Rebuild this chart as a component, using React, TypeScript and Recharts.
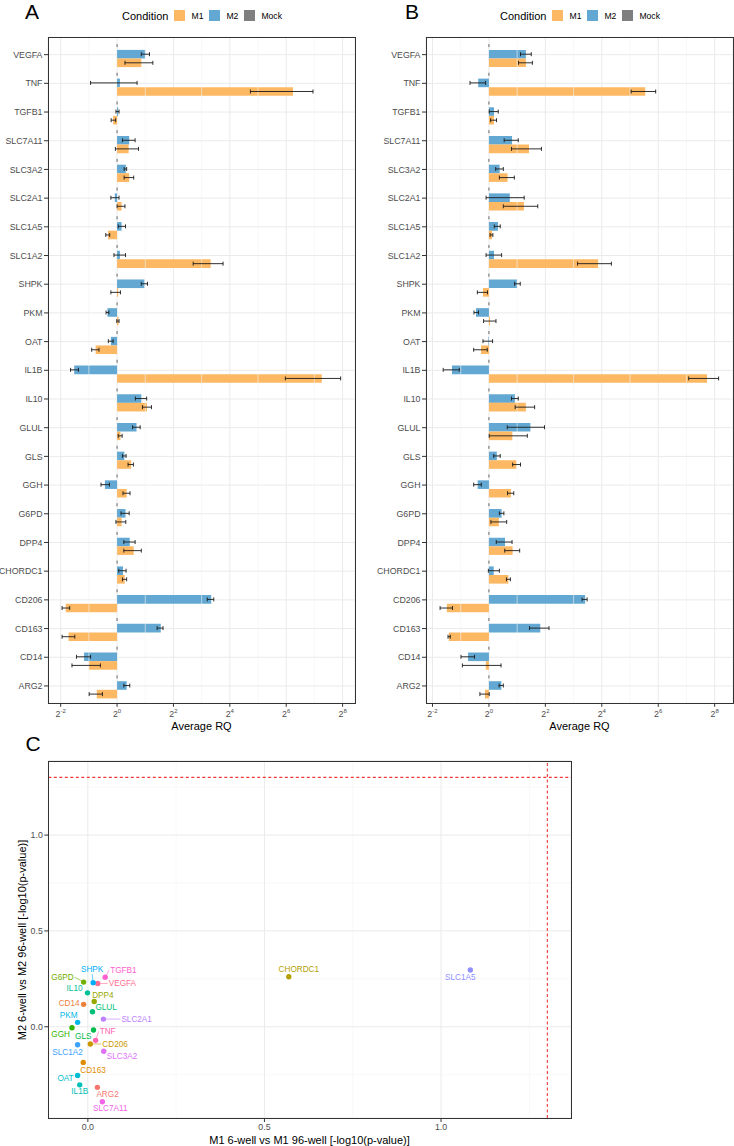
import React from 'react';
import {
  BarChart, Bar, XAxis, YAxis, CartesianGrid, ErrorBar, ReferenceLine,
  ScatterChart, Scatter,
} from 'recharts';

const FONT = '"Liberation Sans", Arial, Helvetica, sans-serif';
const M1_COLOR = '#FDB863';
const M2_COLOR = '#62A8D2';
const MOCK_COLOR = '#7F7F7F';
const GRID = '#EAEAEA';
const GRID_MINOR = '#F4F4F4';
const AXIS_TEXT = '#4D4D4D';
const SIG_COLOR = '#F0393B';

// genes, top to bottom in panels A and B
const genes = ['VEGFA', 'TNF', 'TGFB1', 'SLC7A11', 'SLC3A2', 'SLC2A1', 'SLC1A5', 'SLC1A2', 'SHPK', 'PKM', 'OAT', 'IL1B',
  'IL10', 'GLUL', 'GLS', 'GGH', 'G6PD', 'DPP4', 'CHORDC1', 'CD206', 'CD163', 'CD14', 'ARG2'];

// log2 axis ticks
const majorLog2 = [-2, 0, 2, 4, 6, 8];
const minorLog2 = [-1, 1, 3, 5, 7];

// Panel A: log2(average RQ), mean and error bar ends
const m1A = [0.86, 6.24, -0.14, 0.41, 0.43, 0.16, -0.32, 3.32, 0.04, 0.05, -0.76, 7.26, 1.06, 0.12, 0.5, 0.34, 0.16, 0.59, 0.27, -1.82, -1.72, -1.0, -0.72];
const m1ALo = [0.28, 4.73, -0.21, -0.06, 0.25, 0, -0.4, 2.7, -0.22, -0.01, -0.9, 5.97, 0.9, 0.04, 0.39, 0.21, -0.04, 0.24, 0.19, -1.95, -1.95, -1.6, -0.99];
const m1AHi = [1.27, 6.95, -0.05, 0.76, 0.59, 0.28, -0.26, 3.76, 0.12, 0.07, -0.64, 7.93, 1.22, 0.18, 0.58, 0.46, 0.31, 0.86, 0.34, -1.68, -1.5, -0.59, -0.52];
const m2A = [1.0, 0.1, 0.04, 0.43, 0.31, -0.08, 0.16, 0.1, 0.97, -0.34, -0.22, -1.52, 0.86, 0.69, 0.26, -0.43, 0.3, 0.45, 0.21, 3.34, 1.55, -1.17, 0.34];
const m2ALo = [0.86, -0.94, -0.04, 0.19, 0.25, -0.22, 0.04, -0.11, 0.86, -0.39, -0.31, -1.65, 0.65, 0.55, 0.19, -0.57, 0.14, 0.24, 0.06, 3.2, 1.42, -1.44, 0.24];
const m2AHi = [1.15, 0.71, 0.07, 0.64, 0.34, 0.07, 0.3, 0.3, 1.08, -0.29, -0.14, -1.37, 1.05, 0.82, 0.32, -0.27, 0.43, 0.64, 0.32, 3.43, 1.63, -0.94, 0.45];

// Panel B
const m1B = [1.31, 5.54, 0.18, 1.42, 0.66, 1.24, 0.11, 3.87, -0.21, 0.04, -0.28, 7.73, 1.31, 0.83, 0.97, 0.78, 0.35, 0.84, 0.69, -1.49, -1.42, -0.11, -0.14];
const m1BLo = [1.05, 5.04, 0.06, 0.8, 0.37, 0.51, 0.04, 3.14, -0.41, -0.19, -0.54, 7.08, 0.93, 0.01, 0.84, 0.66, 0.07, 0.56, 0.62, -1.73, -1.45, -0.94, -0.32];
const m1BHi = [1.54, 5.91, 0.27, 1.86, 0.9, 1.73, 0.14, 4.34, -0.05, 0.25, -0.06, 8.14, 1.62, 1.36, 1.12, 0.88, 0.63, 1.09, 0.76, -1.29, -1.37, 0.43, 0.01];
const m2B = [1.31, -0.38, 0.18, 0.82, 0.38, 0.74, 0.32, 0.18, 1.0, -0.46, -0.02, -1.31, 0.92, 1.47, 0.28, -0.4, 0.45, 0.57, 0.17, 3.41, 1.82, -0.74, 0.44];
const m2BLo = [1.12, -0.67, 0.01, 0.54, 0.24, -0.1, 0.19, -0.1, 0.91, -0.53, -0.21, -1.62, 0.8, 0.65, 0.17, -0.54, 0.37, 0.26, -0.02, 3.3, 1.44, -0.99, 0.36];
const m2BHi = [1.5, -0.12, 0.33, 1.04, 0.51, 1.25, 0.4, 0.45, 1.11, -0.37, 0.13, -1.05, 1.04, 1.97, 0.4, -0.27, 0.53, 0.82, 0.37, 3.48, 2.13, -0.51, 0.51];

// Panel C: -log10(p) per gene (same order as genes)
const m1NegLogP = [0.028, 0.022, 0.049, 0.041, 0.045, 0.044, 1.083, -0.029, 0.015, -0.029, -0.029, -0.023, -0.001, 0.013, 0.016, -0.045, -0.012, 0.018, 0.569, 0.007, -0.013, -0.012, 0.027];
const m2NegLogP = [0.226, -0.071, 0.258, -0.391, -0.128, 0.04, 0.296, -0.094, 0.23, 0.023, -0.254, -0.303, 0.177, 0.078, -0.017, -0.005, 0.233, 0.132, 0.261, -0.09, -0.186, 0.117, -0.316];
const SIG = -Math.log10(0.05);

// label placement for panel C (dx, dy, anchor, leader line)
const LABEL_NUDGE: Record<string, [number, number, 'start' | 'middle' | 'end', boolean]> = {
  G6PD: [-10, -5, 'end', true],
  SHPK: [-1, -13, 'middle', true],
  TGFB1: [5, -7, 'start', true],
  VEGFA: [11, 0, 'start', true],
  IL10: [-5, -4, 'end', false],
  DPP4: [-2, -6, 'start', false],
  CD14: [-4, -1, 'end', false],
  GLUL: [3, -4, 'start', false],
  SLC2A1: [18, 0, 'start', true],
  PKM: [0, -7, 'end', false],
  GGH: [-2, 7, 'end', false],
  GLS: [-2, 6, 'end', false],
  TNF: [4, -9, 'start', true],
  CD206: [12, 0, 'start', true],
  SLC1A2: [-10, 8, 'middle', false],
  SLC3A2: [3, 5, 'start', false],
  CD163: [-3, 8, 'start', false],
  OAT: [-4, 3, 'end', false],
  IL1B: [0, 7, 'middle', false],
  ARG2: [-1, 7, 'start', false],
  SLC7A11: [8, 7, 'middle', false],
  CHORDC1: [10, -7, 'middle', false],
  SLC1A5: [-10, 7, 'middle', false],
};

// ggplot-like hue palette (hcl, c=100, l=65)
function hclHex(h: number) {
  const L = 65, C = 100;
  const hr = (h * Math.PI) / 180;
  const u = C * Math.cos(hr), v = C * Math.sin(hr);
  const Y = Math.pow((L + 16) / 116, 3);
  const up = u / (13 * L) + 0.19783, vp = v / (13 * L) + 0.46832;
  const X = (Y * 9 * up) / (4 * vp);
  const Z = (Y * (12 - 3 * up - 20 * vp)) / (4 * vp);
  const lin = [
    3.2406 * X - 1.5372 * Y - 0.4986 * Z,
    -0.9689 * X + 1.8758 * Y + 0.0415 * Z,
    0.0557 * X - 0.204 * Y + 1.057 * Z,
  ];
  return '#' + lin.map((c) => {
    c = Math.max(0, Math.min(1, c));
    const s = c <= 0.0031308 ? 12.92 * c : 1.055 * Math.pow(c, 1 / 2.4) - 0.055;
    return Math.round(s * 255).toString(16).padStart(2, '0');
  }).join('');
}
const sortedGenes = [...genes].sort();
const GENE_COLORS: Record<string, string> = {};
sortedGenes.forEach((g, i) => { GENE_COLORS[g] = hclHex(15 + (360 * i) / sortedGenes.length); });

function buildRows(m1: number[], m1Lo: number[], m1Hi: number[], m2: number[], m2Lo: number[], m2Hi: number[]) {
  return genes.map((gene, i) => ({
    gene,
    mock: 0,
    m1: m1[i],
    m1Err: [Math.max(0, m1[i] - m1Lo[i]), Math.max(0, m1Hi[i] - m1[i])],
    m2: m2[i],
    m2Err: [Math.max(0, m2[i] - m2Lo[i]), Math.max(0, m2Hi[i] - m2[i])],
  }));
}
const rowsA = buildRows(m1A, m1ALo, m1AHi, m2A, m2ALo, m2AHi);
const rowsB = buildRows(m1B, m1BLo, m1BHi, m2B, m2BLo, m2BHi);
const points = genes.map((gene, i) => ({ gene, x: m1NegLogP[i], y: m2NegLogP[i] }));

const Pow2Tick = (p: any) => {
  const { x, y, payload } = p;
  return (
    <g>
      <line x1={x} x2={x} y1={y} y2={y + 3.5} stroke="#333" strokeWidth={1} />
      <text x={x} y={y + 13.2} textAnchor="middle" fontSize={8.8} fill={AXIS_TEXT} fontFamily={FONT}>
        2<tspan dy={-4} fontSize={6}>{payload.value}</tspan>
      </text>
    </g>
  );
};

// Mock has RQ = 1, so only the zero-length error cap shows
const MockShape = (p: any) => {
  const cy = p.y + p.height / 2;
  return <line x1={p.x} x2={p.x} y1={cy - 1.5} y2={cy + 1.5} stroke="#666" strokeWidth={1} />;
};

const GenePoint = (p: any) => {
  const { cx, cy, payload } = p;
  if (cx == null || cy == null) return null;
  const color = GENE_COLORS[payload.gene];
  const [dx, dy, anchor, leader] = LABEL_NUDGE[payload.gene];
  const tx = cx + dx, ty = cy + dy;
  let lx = tx, ly = ty;
  if (anchor === 'start') lx = tx - 1;
  else if (anchor === 'end') lx = tx + 1;
  else ly = ty + (dy < 0 ? 4.5 : -4.5);
  const d = Math.hypot(lx - cx, ly - cy) || 1;
  return (
    <g>
      {leader && (
        <line x1={cx + ((lx - cx) * 2.6) / d} y1={cy + ((ly - cy) * 2.6) / d} x2={lx} y2={ly} stroke={color} strokeWidth={0.6} />
      )}
      <circle cx={cx} cy={cy} r={2.7} fill={color} />
      <text x={tx} y={ty} textAnchor={anchor} dominantBaseline="central" fontSize={8.2} fill={color} fontFamily={FONT}>
        {payload.gene}
      </text>
    </g>
  );
};

function RQChart({ rows, domain, yWidth, marginLeft, marginRight }: any) {
  return (
    <BarChart
      width={367}
      height={745}
      data={rows}
      layout="vertical"
      barSize={8.6}
      barGap={0}
      margin={{ top: 37.3, right: marginRight, bottom: 11.7, left: marginLeft }}
    >
      <CartesianGrid stroke={GRID} fill="#fff" />
      {minorLog2.map((v) => (
        <ReferenceLine key={v} x={v} stroke={GRID_MINOR} strokeWidth={0.6} />
      ))}
      <XAxis
        type="number"
        domain={domain}
        allowDataOverflow
        ticks={majorLog2}
        interval={0}
        tick={Pow2Tick}
        tickLine={false}
        axisLine={false}
        tickSize={0}
        tickMargin={0}
        height={30}
      />
      <YAxis
        type="category"
        dataKey="gene"
        width={yWidth}
        interval={0}
        tick={{ fontSize: 8.8, fill: AXIS_TEXT, fontFamily: FONT }}
        tickLine={{ stroke: '#333' }}
        tickSize={4}
        tickMargin={1.5}
        axisLine={false}
        padding={{ top: 3, bottom: 3 }}
      />
      <Bar dataKey="mock" fill={MOCK_COLOR} shape={MockShape} isAnimationActive={false} />
      <Bar dataKey="m2" fill={M2_COLOR} isAnimationActive={false}>
        <ErrorBar dataKey="m2Err" direction="x" width={2} stroke="#1a1a1a" strokeWidth={0.9} />
      </Bar>
      <Bar dataKey="m1" fill={M1_COLOR} isAnimationActive={false}>
        <ErrorBar dataKey="m1Err" direction="x" width={2} stroke="#1a1a1a" strokeWidth={0.9} />
      </Bar>
    </BarChart>
  );
}

const abs = (left: number, top: number, extra: React.CSSProperties = {}): React.CSSProperties => ({
  position: 'absolute', left, top, ...extra,
});

function CenterText({ x, y, size, children, rotate }: any) {
  return (
    <div
      style={abs(x, y, {
        fontSize: size,
        lineHeight: 1,
        whiteSpace: 'nowrap',
        transform: `translate(-50%, -50%)${rotate ? ' rotate(-90deg)' : ''}`,
      })}
    >
      {children}
    </div>
  );
}

function PanelLetter({ x, top, children }: any) {
  return (
    <div style={abs(x, top, { fontSize: 21, lineHeight: 'normal' })}>{children}</div>
  );
}

function ConditionLegend({ left }: { left: number }) {
  const items = [
    { name: 'M1', color: M1_COLOR },
    { name: 'M2', color: M2_COLOR },
    { name: 'Mock', color: MOCK_COLOR },
  ];
  return (
    <div style={abs(left, 9, { display: 'flex', alignItems: 'center', gap: 6, height: 13 })}>
      <span style={{ fontSize: 11 }}>Condition</span>
      {items.map((it) => (
        <React.Fragment key={it.name}>
          <span style={{ width: 11, height: 11, background: it.color, display: 'inline-block' }} />
          <span style={{ fontSize: 8.6 }}>{it.name}</span>
        </React.Fragment>
      ))}
    </div>
  );
}

function Frame({ left, top, width, height }: any) {
  return (
    <div
      style={abs(left, top, {
        width, height, border: '1px solid #333', boxSizing: 'border-box', pointerEvents: 'none',
      })}
    />
  );
}

export default function App() {
  return (
    <div style={{ position: 'absolute', left: 0, top: 0, width: 734, height: 1146, background: '#fff', fontFamily: FONT, color: '#000' }}>
      <PanelLetter x={25} top={0}>A</PanelLetter>
      <PanelLetter x={405} top={0}>B</PanelLetter>
      <PanelLetter x={25.5} top={732}>C</PanelLetter>

      <ConditionLegend left={122} />
      <ConditionLegend left={500} />

      <div style={abs(0, 0)}>
        <RQChart rows={rowsA} domain={[-2.45, 8.44]} yWidth={40} marginLeft={8} marginRight={12} />
      </div>
      <div style={abs(367, 0)}>
        <RQChart rows={rowsB} domain={[-2.23, 8.65]} yWidth={50} marginLeft={9} marginRight={1} />
      </div>
      <Frame left={48} top={37} width={307.5} height={666.5} />
      <Frame left={426} top={37} width={307.5} height={666.5} />
      <CenterText x={201.5} y={726} size={11}>Average RQ</CenterText>
      <CenterText x={579.5} y={726} size={11}>Average RQ</CenterText>

      <div style={abs(0, 740)}>
        <ScatterChart width={600} height={406} margin={{ top: 20.7, right: 29, bottom: 12, left: 8.3 }}>
          <CartesianGrid stroke={GRID} fill="#fff" />
          {[0.25, 0.75, 1.25].map((v) => (
            <ReferenceLine key={'x' + v} x={v} stroke={GRID_MINOR} strokeWidth={0.6} />
          ))}
          {[-0.25, 0.25, 0.75, 1.25].map((v) => (
            <ReferenceLine key={'y' + v} y={v} stroke={GRID_MINOR} strokeWidth={0.6} />
          ))}
          <XAxis
            type="number"
            dataKey="x"
            domain={[-0.112, 1.368]}
            allowDataOverflow
            ticks={[0, 0.5, 1]}
            interval={0}
            tickFormatter={(v: number) => v.toFixed(1)}
            tick={{ fontSize: 8.8, fill: AXIS_TEXT, fontFamily: FONT }}
            tickLine={{ stroke: '#333' }}
            tickSize={4}
            tickMargin={2}
            axisLine={false}
            height={16}
          />
          <YAxis
            type="number"
            dataKey="y"
            domain={[-0.476, 1.388]}
            allowDataOverflow
            ticks={[0, 0.5, 1]}
            interval={0}
            tickFormatter={(v: number) => v.toFixed(1)}
            tick={{ fontSize: 8.8, fill: AXIS_TEXT, fontFamily: FONT }}
            tickLine={{ stroke: '#333' }}
            tickSize={4}
            tickMargin={1.5}
            axisLine={false}
            width={40}
          />
          <ReferenceLine x={SIG} stroke={SIG_COLOR} strokeDasharray="3 2.5" strokeWidth={1.1} />
          <ReferenceLine y={SIG} stroke={SIG_COLOR} strokeDasharray="3 2.5" strokeWidth={1.1} />
          <Scatter data={points} shape={GenePoint} isAnimationActive={false} />
        </ScatterChart>
      </div>
      <Frame left={48} top={760.5} width={523.5} height={358} />
      <CenterText x={309.5} y={1140} size={11}>M1 6-well vs M1 96-well [-log10(p-value)]</CenterText>
      <CenterText x={21.7} y={939.5} size={11} rotate>M2 6-well vs M2 96-well [-log10(p-value)]</CenterText>
    </div>
  );
}
